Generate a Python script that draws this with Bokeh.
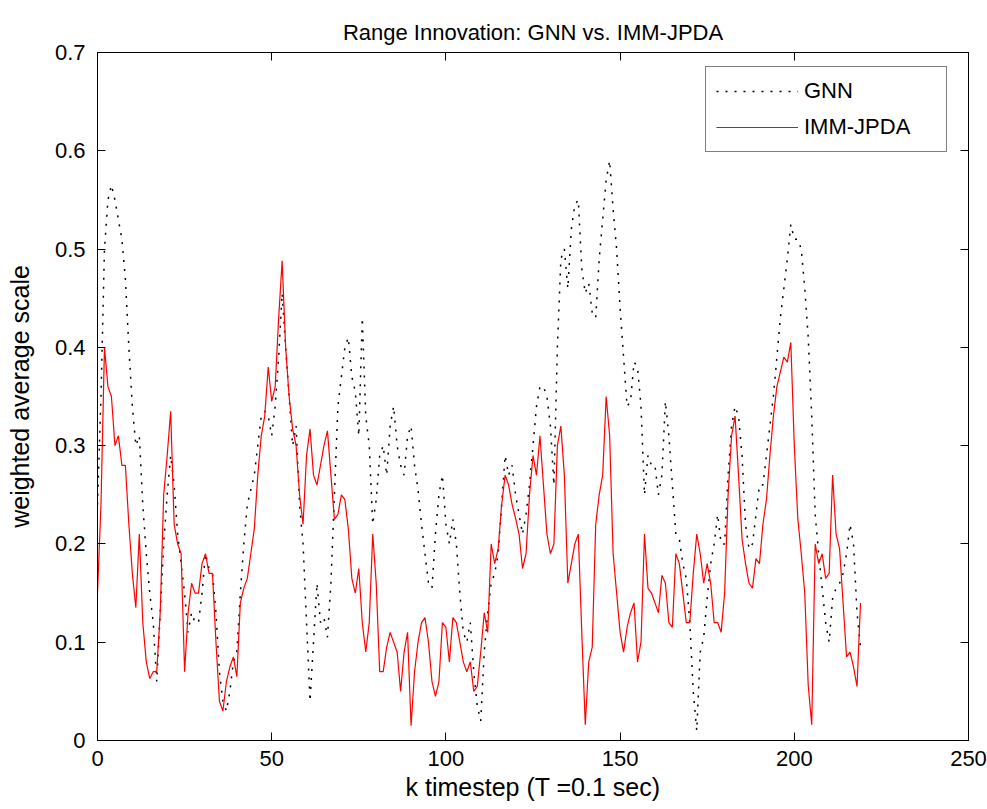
from bokeh.plotting import figure
from bokeh.models import (Range1d, LinearAxis, FixedTicker, Legend, LegendItem,
                          CustomJSTickFormatter)
from bokeh.embed import file_html
from bokeh.resources import INLINE

# ---------------- data ----------------
k = list(range(220))

gnn = [
    0.24, 0.35, 0.50, 0.55, 0.565, 0.55, 0.53, 0.51, 0.47, 0.40,
    0.34, 0.30, 0.31, 0.24, 0.19, 0.15, 0.12, 0.06, 0.13, 0.20,
    0.25, 0.29, 0.26, 0.21, 0.18, 0.15, 0.11, 0.13, 0.12, 0.12,
    0.15, 0.19, 0.175, 0.17, 0.13, 0.07, 0.04, 0.03, 0.05, 0.08,
    0.09, 0.15, 0.20, 0.24, 0.255, 0.27, 0.30, 0.33, 0.335, 0.33,
    0.31, 0.34, 0.39, 0.455, 0.40, 0.35, 0.30, 0.32, 0.24, 0.20,
    0.12, 0.04, 0.10, 0.16, 0.12, 0.125, 0.105, 0.16, 0.25, 0.34,
    0.37, 0.40, 0.41, 0.37, 0.355, 0.31, 0.43, 0.33, 0.30, 0.22,
    0.245, 0.29, 0.30, 0.27, 0.32, 0.34, 0.30, 0.28, 0.27, 0.31,
    0.32, 0.28, 0.255, 0.22, 0.19, 0.16, 0.155, 0.21, 0.25, 0.27,
    0.22, 0.20, 0.225, 0.20, 0.15, 0.11, 0.10, 0.12, 0.07, 0.035,
    0.02, 0.09, 0.13, 0.16, 0.17, 0.19, 0.24, 0.29, 0.27, 0.28,
    0.25, 0.23, 0.21, 0.23, 0.26, 0.30, 0.34, 0.36, 0.36, 0.35,
    0.32, 0.26, 0.40, 0.49, 0.50, 0.46, 0.52, 0.545, 0.55, 0.48,
    0.455, 0.465, 0.435, 0.43, 0.49, 0.53, 0.57, 0.59, 0.54, 0.50,
    0.44, 0.39, 0.34, 0.345, 0.385, 0.38, 0.34, 0.25, 0.29, 0.28,
    0.28, 0.25, 0.27, 0.345, 0.31, 0.26, 0.21, 0.205, 0.18, 0.165,
    0.12, 0.05, 0.01, 0.09, 0.105, 0.145, 0.18, 0.20, 0.23, 0.20,
    0.20, 0.27, 0.32, 0.34, 0.33, 0.29, 0.22, 0.195, 0.20, 0.23,
    0.26, 0.26, 0.29, 0.32, 0.35, 0.39, 0.43, 0.46, 0.49, 0.525,
    0.51, 0.51, 0.50, 0.46, 0.41, 0.33, 0.23, 0.19, 0.155, 0.12,
    0.10, 0.145, 0.155, 0.16, 0.17, 0.19, 0.22, 0.20, 0.13, 0.095,
]

imm_jpda = [
    0.15, 0.24, 0.40, 0.36, 0.35, 0.30, 0.31, 0.28, 0.28, 0.22,
    0.17, 0.135, 0.21, 0.12, 0.08, 0.063, 0.07, 0.07, 0.13, 0.25,
    0.29, 0.335, 0.22, 0.20, 0.19, 0.07, 0.13, 0.16, 0.15, 0.15,
    0.18, 0.19, 0.17, 0.17, 0.10, 0.04, 0.03, 0.06, 0.075, 0.085,
    0.065, 0.14, 0.155, 0.165, 0.19, 0.215, 0.27, 0.31, 0.33, 0.38,
    0.345, 0.36, 0.43, 0.488, 0.40, 0.35, 0.317, 0.30, 0.25, 0.22,
    0.29, 0.317, 0.27, 0.26, 0.28, 0.30, 0.315, 0.27, 0.225, 0.23,
    0.25, 0.245, 0.215, 0.165, 0.15, 0.175, 0.12, 0.09, 0.12, 0.21,
    0.16, 0.07, 0.07, 0.095, 0.11, 0.10, 0.09, 0.05, 0.09, 0.11,
    0.015, 0.07, 0.10, 0.12, 0.125, 0.10, 0.06, 0.045, 0.06, 0.12,
    0.115, 0.08, 0.125, 0.12, 0.10, 0.08, 0.07, 0.08, 0.05, 0.055,
    0.09, 0.13, 0.11, 0.20, 0.18, 0.195, 0.24, 0.27, 0.26, 0.24,
    0.226, 0.21, 0.175, 0.19, 0.25, 0.29, 0.27, 0.31, 0.26, 0.21,
    0.19, 0.20, 0.30, 0.32, 0.27, 0.16, 0.18, 0.20, 0.21, 0.11,
    0.016, 0.08, 0.095, 0.22, 0.25, 0.27, 0.35, 0.31, 0.19, 0.15,
    0.11, 0.09, 0.115, 0.13, 0.14, 0.08, 0.10, 0.21, 0.155, 0.15,
    0.14, 0.13, 0.168, 0.16, 0.12, 0.115, 0.19, 0.18, 0.15, 0.12,
    0.12, 0.17, 0.21, 0.19, 0.16, 0.18, 0.16, 0.12, 0.12, 0.11,
    0.15, 0.25, 0.31, 0.33, 0.27, 0.205, 0.18, 0.16, 0.155, 0.185,
    0.18, 0.22, 0.245, 0.29, 0.33, 0.36, 0.375, 0.39, 0.385, 0.405,
    0.30, 0.226, 0.19, 0.15, 0.056, 0.016, 0.20, 0.18, 0.19, 0.165,
    0.17, 0.27, 0.21, 0.195, 0.14, 0.085, 0.09, 0.075, 0.055, 0.14,
]

x_ticks = [0, 50, 100, 150, 200, 250]
y_ticks = [0, 0.1, 0.2, 0.3, 0.4, 0.5, 0.6, 0.7]
y_tick_labels = ["0", "0.1", "0.2", "0.3", "0.4", "0.5", "0.6", "0.7"]

title_text = "Range Innovation: GNN vs. IMM-JPDA"
x_label = "k timestep (T =0.1 sec)"
y_label = "weighted average scale"
series_names = ["GNN", "IMM-JPDA"]

FONT = "Liberation Sans"
TICK_FS = "22px"
LABEL_FS = "25px"

# ---------------- figure ----------------
p = figure(frame_width=871, frame_height=688,
           output_backend="svg", toolbar_location=None,
           x_range=Range1d(0, 250), y_range=Range1d(0, 0.7),
           min_border_left=97, min_border_right=19,
           min_border_top=52, min_border_bottom=69)

p.background_fill_color = "white"
p.border_fill_color = "white"
p.outline_line_color = "black"
p.outline_line_width = 1
p.xgrid.visible = False
p.ygrid.visible = False

p.title.text = title_text
p.title.align = "center"
p.title.text_font = FONT
p.title.text_font_size = "22px"
p.title.text_font_style = "normal"
p.title.text_color = "black"
p.title.standoff = 15

def style_axis(ax):
    ax.axis_line_color = "black"
    ax.major_tick_line_color = "black"
    ax.major_tick_in = 8
    ax.major_tick_out = 0
    ax.minor_tick_line_color = None
    ax.major_label_text_font = FONT
    ax.major_label_text_font_size = TICK_FS
    ax.major_label_text_color = "black"
    ax.axis_label_text_font = FONT
    ax.axis_label_text_font_size = LABEL_FS
    ax.axis_label_text_font_style = "normal"
    ax.axis_label_text_color = "black"

xa = p.xaxis[0]
style_axis(xa)
xa.ticker = FixedTicker(ticks=x_ticks)
xa.axis_label = x_label
xa.major_label_standoff = 10
xa.axis_label_standoff = 4

ya = p.yaxis[0]
style_axis(ya)
ya.ticker = FixedTicker(ticks=y_ticks)
ya.major_label_overrides = {t: s for t, s in zip(y_ticks, y_tick_labels)}
ya.axis_label = y_label
ya.major_label_standoff = 12
ya.axis_label_standoff = 18

blank = CustomJSTickFormatter(code="return ''")
top = LinearAxis(ticker=FixedTicker(ticks=x_ticks), formatter=blank)
style_axis(top)
top.major_label_text_font_size = "0px"
top.major_label_standoff = 0
p.add_layout(top, "above")

right = LinearAxis(ticker=FixedTicker(ticks=y_ticks), formatter=blank)
style_axis(right)
right.major_label_text_font_size = "0px"
right.major_label_standoff = 0
p.add_layout(right, "right")

# ---------------- lines ----------------
r_gnn = p.line(k, gnn, line_color="black", line_width=1.5, line_dash="2 7")
r_imm = p.line(k, imm_jpda, line_color="#ff0000", line_width=1.2)

legend = Legend(items=[LegendItem(label=series_names[0], renderers=[r_gnn]),
                       LegendItem(label=series_names[1], renderers=[r_imm])],
                location=(608, 588))
legend.border_line_color = "black"
legend.border_line_width = 1
legend.background_fill_color = "white"
legend.background_fill_alpha = 1
legend.label_text_font = FONT
legend.label_text_font_size = "22px"
legend.label_text_color = "black"
legend.glyph_width = 82
legend.glyph_height = 28
legend.label_height = 28
legend.label_width = 132
legend.label_standoff = 6
legend.padding = 10
legend.spacing = 8
legend.margin = 0
p.add_layout(legend)

open("out.html", "w").write(file_html(p, INLINE))
